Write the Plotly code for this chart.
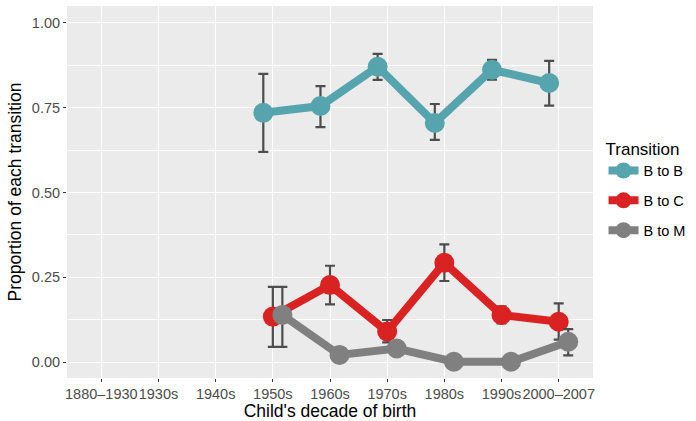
import plotly.graph_objects as go

categories = ["1880\u20131930", "1930s", "1940s", "1950s", "1960s", "1970s",
              "1980s", "1990s", "2000\u20132007"]

# observed categories for each series
obs_cats = ["1950s", "1960s", "1970s", "1980s", "1990s", "2000\u20132007"]

b_to_b = [0.735, 0.755, 0.871, 0.705, 0.862, 0.823]
b_to_b_hi = [0.850, 0.814, 0.909, 0.761, 0.891, 0.888]
b_to_b_lo = [0.620, 0.693, 0.832, 0.655, 0.833, 0.756]

b_to_c = [0.134, 0.227, 0.090, 0.293, 0.139, 0.119]
b_to_c_hi = [0.222, 0.284, 0.124, 0.347, 0.164, 0.173]
b_to_c_lo = [0.045, 0.170, 0.058, 0.239, 0.114, 0.066]

b_to_m = [0.139, 0.021, 0.040, 0.001, 0.001, 0.060]
b_to_m_hi = [0.222, 0.021, 0.048, 0.001, 0.001, 0.097]
b_to_m_lo = [0.045, 0.021, 0.032, 0.001, 0.001, 0.020]

series = [
    ("B to B", b_to_b, b_to_b_hi, b_to_b_lo, "#56A4AE"),
    ("B to C", b_to_c, b_to_c_hi, b_to_c_lo, "#DA2222"),
    ("B to M", b_to_m, b_to_m_hi, b_to_m_lo, "#808080"),
]

dodge_width = 0.5
n = len(series)

fig = go.Figure()
for i, (name, vals, hi, lo, col) in enumerate(series):
    off = (i - (n - 1) / 2) * dodge_width / n
    xs = [categories.index(c) + 1 + off for c in obs_cats]
    fig.add_trace(go.Scatter(
        x=xs, y=vals, name=name, mode="lines+markers", legendgroup=name,
        line=dict(color=col, width=8),
        marker=dict(color=col, size=20),
        error_y=dict(type="data", symmetric=False,
                     array=[h - v for h, v in zip(hi, vals)],
                     arrayminus=[v - l for v, l in zip(vals, lo)],
                     color="#4D4D4D", thickness=2.2, width=5),
    ))

fig.update_layout(
    width=696, height=421,
    margin=dict(l=67, r=103, t=6, b=43, autoexpand=False),
    paper_bgcolor="white", plot_bgcolor="#EBEBEB",
    font=dict(family="Liberation Sans, Arial, sans-serif", color="black"),
    showlegend=True,
    legend=dict(title=dict(text="Transition", font=dict(size=17)),
                font=dict(size=14.5), x=1.02, xanchor="left",
                y=0.66, yanchor="top", bgcolor="white",
                itemwidth=30, tracegroupgap=8),
)
fig.update_xaxes(
    range=[0.4, 9.6], tickmode="array",
    tickvals=list(range(1, len(categories) + 1)), ticktext=categories,
    tickangle=0,
    showgrid=True, gridcolor="white", gridwidth=1.4, zeroline=False,
    ticks="outside", ticklen=3, tickcolor="#333333", automargin=False,
    tickfont=dict(size=14.5, color="#4D4D4D"),
    title=dict(text="Child's decade of birth", font=dict(size=17.5), standoff=4),
)
fig.update_yaxes(
    range=[-0.047, 1.05], tickmode="array",
    tickvals=[0, 0.25, 0.5, 0.75, 1.0],
    ticktext=["0.00", "0.25", "0.50", "0.75", "1.00"],
    showgrid=True, gridcolor="white", gridwidth=1.4, zeroline=False,
    minor=dict(tickmode="array", tickvals=[0.125, 0.375, 0.625, 0.875],
               showgrid=True, gridcolor="white", gridwidth=0.6, ticks=""),
    ticks="outside", ticklen=3, tickcolor="#333333", automargin=False,
    tickfont=dict(size=14.5, color="#4D4D4D"),
    title=dict(text="Proportion of each transition", font=dict(size=17.5), standoff=5),
)

fig.write_html("out.html", config={"displayModeBar": False},
               post_script="document.body.style.margin='0';")
